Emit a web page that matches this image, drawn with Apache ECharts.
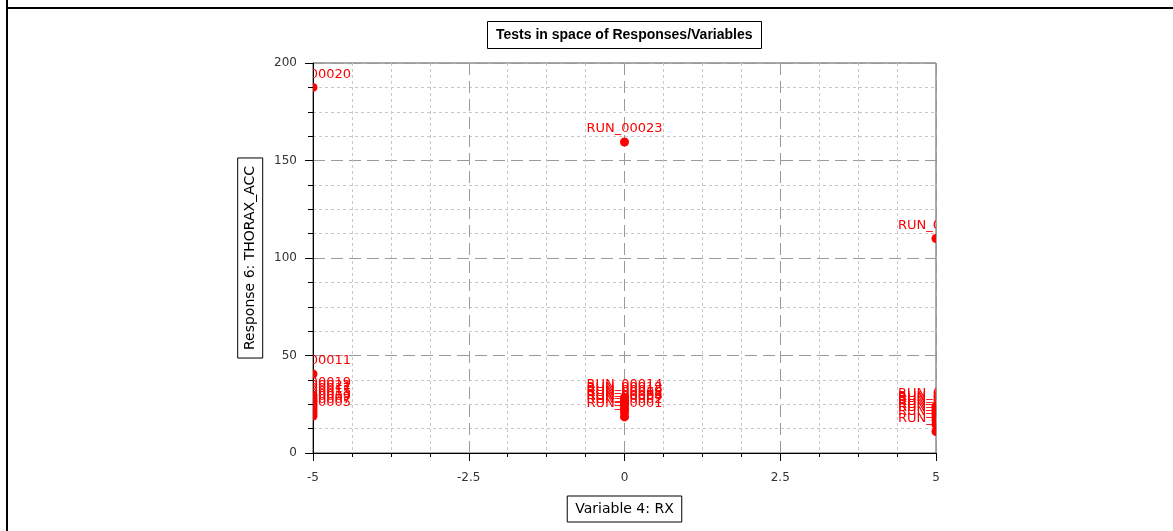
<!DOCTYPE html>
<html>
<head>
<meta charset="utf-8">
<script src="https://cdn.jsdelivr.net/npm/echarts@6/dist/echarts.min.js"></script>
<style>
html,body{margin:0;padding:0;background:#fff;}
#chart{width:1173px;height:531px;}
</style>
</head>
<body>
<div id="chart"></div>
<script>
// ---- data ----
const runNames = [
  'RUN_00020','RUN_00011','RUN_00019','RUN_00021','RUN_00017','RUN_00015','RUN_00013','RUN_00009','RUN_00007','RUN_00005',
  'RUN_00023','RUN_00014','RUN_00012','RUN_00010','RUN_00008','RUN_00006','RUN_00004','RUN_00002','RUN_00001',
  'RUN_00026','RUN_00027','RUN_00025','RUN_00024','RUN_00022','RUN_00018','RUN_00016','RUN_00003','RUN_00028'
];
const variableRX = [
  -5,-5,-5,-5,-5,-5,-5,-5,-5,-5,
  0,0,0,0,0,0,0,0,0,
  5,5,5,5,5,5,5,5,5
];
const responseThorax = [
  187.5,40.5,29.5,28,26.5,25,23.5,22,20.5,19,
  159.5,28.5,27,25.5,24.5,23,22,20.5,18.5,
  110,24,22.5,21,19.5,18,16.5,14.5,11
];
const titleText = 'Tests in space of Responses/Variables';
const xName = 'Variable 4: RX';
const yName = 'Response 6: THORAX_ACC';

const chart = echarts.init(document.getElementById('chart'), null, {renderer:'canvas'});
const seriesData = variableRX.map((x, i) => [x, responseThorax[i]]);

const option = {
  animation: false,
  backgroundColor: '#ffffff',
  title: {
    text: titleText,
    left: 487, top: 21,
    padding: [7, 9, 7, 9],
    borderColor: '#000', borderWidth: 1,
    textStyle: {fontFamily: 'Liberation Sans', fontSize: 14, fontWeight: 'bold', color: '#000'}
  },
  graphic: [
    {type:'line', shape:{x1:7, y1:0, x2:7, y2:531}, style:{stroke:'#000', lineWidth:2}},
    {type:'line', shape:{x1:7, y1:8, x2:1173, y2:8}, style:{stroke:'#000', lineWidth:2}}
  ],
  grid: {left: 313, right: 237, top: 63, bottom: 78, outerBoundsMode: 'none', containLabel: false,
         show: true, borderColor: '#555', borderWidth: 1, backgroundColor: 'transparent'},
  xAxis: {
    type: 'value', min: -5, max: 5, interval: 2.5,
    name: xName, nameLocation: 'middle', nameGap: 43,
    nameTextStyle: {fontFamily: 'DejaVu Sans', fontSize: 14, color: '#000', borderColor: '#000', borderWidth: 1, padding: [6, 8, 6, 8]},
    axisLine: {onZero: false, lineStyle: {color: '#000', width: 1}},
    axisTick: {show: true, length: 8, lineStyle: {color: '#000'}},
    minorTick: {show: true, splitNumber: 4, length: 4, lineStyle: {color: '#000'}},
    axisLabel: {margin: 19, fontFamily: 'DejaVu Sans', fontSize: 12, color: '#333'},
    splitLine: {show: true, lineStyle: {color: '#9a9a9a', type: [12, 6], width: 1}},
    minorSplitLine: {show: true, lineStyle: {color: '#c8c8c8', type: [3, 3], width: 1}}
  },
  yAxis: {
    type: 'value', min: 0, max: 200, interval: 50,
    name: yName, nameLocation: 'middle', nameGap: 48, nameRotate: 90,
    nameTextStyle: {fontFamily: 'DejaVu Sans', fontSize: 14, color: '#000', borderColor: '#000', borderWidth: 1, padding: [6, 8, 5, 8]},
    axisLine: {show: true, onZero: false, lineStyle: {color: '#000', width: 1}},
    axisTick: {show: true, length: 8, lineStyle: {color: '#000'}},
    minorTick: {show: true, splitNumber: 4, length: 5, lineStyle: {color: '#000'}},
    axisLabel: {margin: 16, fontFamily: 'DejaVu Sans', fontSize: 12, color: '#333'},
    splitLine: {show: true, lineStyle: {color: '#9a9a9a', type: [12, 6], width: 1}},
    minorSplitLine: {show: true, lineStyle: {color: '#c8c8c8', type: [3, 3], width: 1}}
  },
  series: [{
    type: 'custom',
    clip: true,
    data: seriesData,
    encode: {x: 0, y: 1},
    renderItem: function (params, api) {
      const p = api.coord([api.value(0), api.value(1)]);
      return {
        type: 'group',
        children: [
          {type: 'circle', shape: {cx: p[0], cy: p[1], r: 4.5}, style: {fill: '#ff0000'}},
          {type: 'text', x: p[0], y: p[1] - 13, style: {text: runNames[params.dataIndex], fill: '#ff0000', font: '13px "DejaVu Sans"', align: 'center', verticalAlign: 'middle'}}
        ]
      };
    }
  }]
};
chart.setOption(option);
</script>
</body>
</html>
